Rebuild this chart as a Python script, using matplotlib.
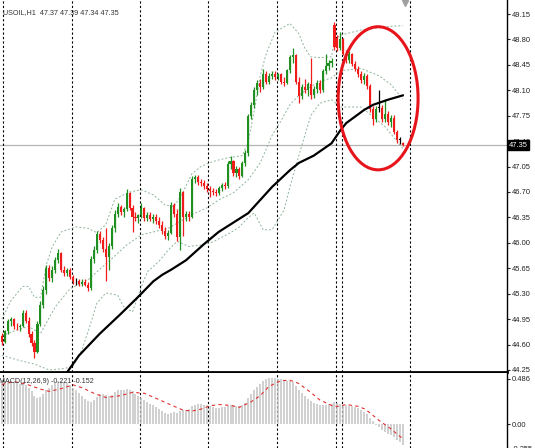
import numpy as np
import matplotlib
matplotlib.use("Agg")
import matplotlib.pyplot as plt
from matplotlib.patches import Ellipse

plt.rcParams['font.family'] = ['Liberation Sans', 'DejaVu Sans']

# hourly candles, bar -1 is cut at the left edge
bars = np.arange(-1, 135)
opens = [44.72, 44.64, 44.78, 44.92, 44.95, 44.85, 44.84, 44.86, 45.04, 44.93, 44.74,
         44.62, 44.50, 44.88, 45.15, 45.35, 45.66, 45.52, 45.62, 45.76, 45.86,
         45.63, 45.58, 45.62, 45.53, 45.47, 45.47, 45.44, 45.46, 45.42, 45.38,
         45.78, 45.90, 46.12, 46.04, 45.92, 45.80, 45.95, 46.20, 46.40, 46.50,
         46.42, 46.46, 46.68, 46.48, 46.36, 46.34, 46.38, 46.48, 46.34, 46.38,
         46.33, 46.36, 46.30, 46.24, 46.16, 46.10, 46.14, 46.52, 46.40, 46.08,
         46.70, 46.36, 46.40, 46.36, 46.88, 46.90, 46.84, 46.82, 46.78, 46.74,
         46.72, 46.70, 46.68, 46.76, 46.80, 46.78, 47.08, 47.12, 46.96, 47.02,
         46.92, 47.10, 47.24, 47.74, 47.90, 48.10, 48.20, 48.14, 48.32, 48.22,
         48.30, 48.32, 48.28, 48.32, 48.22, 48.20, 48.38, 48.56, 48.58, 48.22,
         48.02, 48.14, 48.10, 48.18, 48.04, 48.12, 48.20, 48.10, 48.36, 48.44,
         48.48, 49.00, 48.82, 48.68, 48.80, 48.60, 48.52, 48.60, 48.46, 48.40,
         48.32, 48.24, 48.30, 48.16, 47.84, 47.70, 47.86, 47.86, 47.70, 47.78,
         47.66, 47.72, 47.52, 47.42, 47.37]
highs = [44.76, 44.80, 44.95, 44.98, 44.97, 44.90, 44.88, 45.08, 45.07, 44.98, 44.78,
         44.66, 44.92, 45.20, 45.40, 45.70, 45.70, 45.68, 45.80, 45.92, 45.88,
         45.68, 45.66, 45.66, 45.56, 45.52, 45.50, 45.50, 45.50, 45.46, 45.82,
         45.96, 46.16, 46.16, 46.08, 46.20, 46.00, 46.25, 46.45, 46.55, 46.52,
         46.50, 46.74, 46.70, 46.52, 46.42, 46.40, 46.55, 46.50, 46.42, 46.42,
         46.40, 46.40, 46.36, 46.30, 46.22, 46.18, 46.56, 46.55, 46.46, 46.76,
         46.72, 46.44, 46.44, 46.92, 46.94, 46.93, 46.88, 46.86, 46.82, 46.78,
         46.76, 46.74, 46.78, 46.82, 46.84, 47.12, 47.20, 47.14, 47.06, 47.05,
         47.12, 47.28, 47.78, 47.94, 48.14, 48.24, 48.26, 48.40, 48.36, 48.34,
         48.36, 48.36, 48.34, 48.34, 48.28, 48.40, 48.58, 48.68, 48.60, 48.28,
         48.18, 48.26, 48.22, 48.55, 48.16, 48.24, 48.24, 48.40, 48.60, 48.52,
         48.54, 49.04, 48.86, 48.90, 48.82, 48.66, 48.64, 48.62, 48.50, 48.44,
         48.36, 48.34, 48.32, 48.18, 47.88, 47.88, 48.10, 47.90, 47.98, 47.82,
         47.76, 47.76, 47.56, 47.46, 47.39]
lows = [44.60, 44.62, 44.74, 44.86, 44.82, 44.80, 44.78, 44.84, 44.90, 44.70, 44.58,
        44.42, 44.48, 44.85, 45.10, 45.30, 45.48, 45.46, 45.58, 45.72, 45.60,
        45.55, 45.54, 45.50, 45.44, 45.42, 45.40, 45.40, 45.40, 45.34, 45.35,
        45.72, 45.86, 46.00, 45.88, 45.48, 45.62, 45.92, 46.15, 46.35, 46.38,
        46.36, 46.44, 46.45, 46.15, 46.30, 46.28, 46.34, 46.30, 46.30, 46.30,
        46.28, 46.26, 46.20, 46.12, 46.05, 46.04, 46.12, 46.36, 46.02, 45.90,
        46.10, 46.30, 46.30, 46.34, 46.82, 46.80, 46.78, 46.74, 46.70, 46.63,
        46.66, 46.64, 46.66, 46.72, 46.74, 46.76, 47.02, 46.92, 46.90, 46.88,
        46.90, 47.06, 47.20, 47.70, 47.86, 48.04, 48.08, 48.12, 48.18, 48.18,
        48.26, 48.24, 48.24, 48.18, 48.16, 48.18, 48.34, 48.48, 48.18, 47.92,
        47.98, 48.06, 48.02, 47.98, 48.00, 48.06, 48.06, 48.08, 48.32, 48.38,
        48.42, 48.66, 48.64, 48.66, 48.58, 48.48, 48.48, 48.44, 48.36, 48.28,
        48.20, 48.18, 48.12, 47.80, 47.62, 47.66, 47.80, 47.66, 47.66, 47.62,
        47.60, 47.50, 47.38, 47.36, 47.34]
closes = [44.64, 44.78, 44.92, 44.95, 44.85, 44.84, 44.86, 45.04, 44.93, 44.74, 44.62,
          44.50, 44.88, 45.15, 45.35, 45.66, 45.52, 45.62, 45.76, 45.86, 45.63,
          45.58, 45.62, 45.53, 45.47, 45.47, 45.44, 45.46, 45.42, 45.38, 45.78,
          45.90, 46.12, 46.04, 45.92, 45.80, 45.95, 46.20, 46.40, 46.50, 46.42,
          46.46, 46.68, 46.48, 46.36, 46.34, 46.38, 46.48, 46.34, 46.38, 46.33,
          46.36, 46.30, 46.24, 46.16, 46.10, 46.14, 46.52, 46.40, 46.08, 46.70,
          46.36, 46.40, 46.36, 46.88, 46.90, 46.84, 46.82, 46.78, 46.74, 46.72,
          46.70, 46.68, 46.76, 46.80, 46.78, 47.08, 47.12, 46.96, 47.02, 46.92,
          47.10, 47.24, 47.74, 47.90, 48.10, 48.20, 48.14, 48.32, 48.22, 48.30,
          48.32, 48.28, 48.32, 48.22, 48.20, 48.38, 48.56, 48.58, 48.22, 48.02,
          48.14, 48.10, 48.18, 48.04, 48.12, 48.20, 48.10, 48.36, 48.44, 48.48,
          48.50, 48.70, 48.68, 48.80, 48.60, 48.52, 48.60, 48.46, 48.40, 48.32,
          48.24, 48.30, 48.16, 47.84, 47.70, 47.84, 47.86, 47.70, 47.78, 47.66,
          47.72, 47.52, 47.42, 47.42, 47.35]

# slow moving average (thick black line)
ma_bars = [21, 25, 32, 39, 45, 50, 53, 56, 61, 67, 72, 77, 82, 86, 90, 96, 99, 104,
           110, 113, 115, 121, 124, 129, 134]
ma_vals = [44.22, 44.45, 44.75, 45.02, 45.26, 45.47, 45.56, 45.63, 45.76, 45.98, 46.15,
           46.28, 46.41, 46.59, 46.77, 47.00, 47.10, 47.20, 47.37, 47.55, 47.65,
           47.83, 47.90, 47.97, 48.03]

# bollinger bands
bb_up_bars = [-1, 2, 6, 8, 10, 12, 14, 16, 19, 24, 28, 31, 34, 37, 42, 46, 50, 54,
              57, 60, 63, 66, 70, 75, 80, 82, 84, 86, 88, 91, 96, 99, 101, 103, 106,
              110, 111, 113, 120, 126, 130, 134]
bb_up = [44.95, 45.20, 45.40, 45.40, 45.25, 45.25, 45.70, 45.95, 46.15, 46.22, 46.20,
         46.14, 46.25, 46.60, 46.70, 46.73, 46.66, 46.52, 46.50, 46.70, 46.95, 47.05,
         47.12, 47.17, 47.20, 47.40, 47.82, 48.30, 48.60, 48.90, 49.02, 48.88, 48.68,
         48.56, 48.55, 48.56, 48.80, 48.86, 48.93, 48.96, 48.98, 48.99]
bb_mid_bars = [-1, 4, 8, 12, 17, 22, 28, 31, 36, 41, 46, 50, 55, 58, 61, 63, 68, 72,
               77, 82, 86, 90, 93, 96, 99, 103, 106, 110, 113, 120, 126, 130, 134]
bb_mid = [44.72, 44.80, 44.85, 44.75, 45.12, 45.37, 45.49, 45.60, 45.78, 45.97, 46.11,
          46.15, 46.20, 46.27, 46.34, 46.39, 46.48, 46.59, 46.69, 46.87, 47.10, 47.48,
          47.68, 47.90, 48.03, 48.15, 48.22, 48.27, 48.37, 48.40, 48.30, 48.18, 47.98]
bb_low_bars = [-1, 5, 10, 15, 20, 23, 26, 29, 31, 34, 38, 40, 43, 46, 48, 52, 55, 58,
               62, 66, 70, 76, 79, 82, 84, 87, 90, 94, 96, 99, 103, 106, 110, 113, 120,
               128, 134]
bb_low = [44.45, 44.38, 44.33, 44.25, 44.27, 44.30, 44.53, 44.90, 45.17, 45.31, 45.28,
          45.12, 45.05, 45.40, 45.60, 45.75, 45.90, 46.02, 45.95, 45.97, 46.01, 46.14,
          46.22, 46.35, 46.41, 46.18, 46.18, 46.45, 46.77, 47.20, 47.75, 47.92, 47.97,
          47.87, 47.87, 47.60, 47.30]

# MACD(12,26,9): main as histogram, signal as dotted line
macd_main = [0.46, 0.46, 0.46, 0.46, 0.45, 0.44, 0.43, 0.43, 0.42, 0.39, 0.35,
             0.30, 0.28, 0.29, 0.32, 0.36, 0.39, 0.42, 0.44, 0.46, 0.46,
             0.45, 0.44, 0.42, 0.39, 0.36, 0.33, 0.30, 0.27, 0.25, 0.24,
             0.26, 0.29, 0.32, 0.32, 0.31, 0.30, 0.31, 0.34, 0.36, 0.37,
             0.37, 0.38, 0.37, 0.35, 0.32, 0.30, 0.28, 0.26, 0.24, 0.22,
             0.20, 0.18, 0.16, 0.14, 0.12, 0.11, 0.12, 0.13, 0.12, 0.14,
             0.15, 0.15, 0.16, 0.19, 0.21, 0.22, 0.22, 0.21, 0.20, 0.19,
             0.18, 0.17, 0.17, 0.18, 0.18, 0.19, 0.20, 0.20, 0.19, 0.19,
             0.20, 0.23, 0.28, 0.32, 0.36, 0.40, 0.43, 0.46, 0.48, 0.49,
             0.49, 0.49, 0.48, 0.48, 0.47, 0.46, 0.46, 0.45, 0.41, 0.37,
             0.33, 0.30, 0.27, 0.25, 0.23, 0.22, 0.21, 0.21, 0.21, 0.22,
             0.22, 0.24, 0.23, 0.22, 0.21, 0.20, 0.19, 0.19, 0.18, 0.17,
             0.15, 0.13, 0.11, 0.07, 0.03, -0.01, -0.03, -0.06, -0.08, -0.10,
             -0.12, -0.14, -0.17, -0.19, -0.221]
sig_bars = [-1, 3, 7, 12, 15, 19, 23, 26, 30, 34, 39, 43, 47, 51, 56, 60, 63, 66, 69,
            72, 76, 79, 83, 86, 89, 93, 96, 99, 103, 106, 110, 112, 115, 119, 121, 123,
            126, 130, 133, 134]
sig_vals = [0.425, 0.455, 0.43, 0.375, 0.35, 0.38, 0.42, 0.39, 0.33, 0.285, 0.305,
            0.34, 0.33, 0.275, 0.205, 0.15, 0.14, 0.16, 0.195, 0.21, 0.2, 0.18, 0.24,
            0.305, 0.405, 0.465, 0.47, 0.435, 0.34, 0.26, 0.2, 0.19, 0.21, 0.19, 0.165,
            0.12, 0.04, -0.05, -0.13, -0.152]

day_lines = [-0.5, 22.5, 45.5, 68.5, 91.5, 111.5, 113.5, 136.5]
price_ticks = [49.15, 48.80, 48.45, 48.10, 47.75, 47.40, 47.05, 46.70, 46.35, 46.00,
               45.65, 45.30, 44.95, 44.60, 44.25]
macd_ticks = [0.486, 0.0, -0.255]
last_price = 47.35

fig = plt.figure(figsize=(5.35, 4.48), dpi=100)
ax = fig.add_axes([0, 76 / 448, 507 / 535, 372 / 448])
ax2 = fig.add_axes([0, 0, 507 / 535, 75 / 448])

xmin, xmax = -1.616, 169.09
green = '#1f8f1f'
red = '#f01c1c'

# candles
o = np.array(opens)
c = np.array(closes)
cols = np.where(c > o, green, np.where(c < o, red, 'black'))
ax.vlines(bars, lows, highs, colors=cols, lw=0.9, zorder=3)
body = np.where(np.abs(c - o) < 0.01, 0.01, c - o)
ax.bar(bars, body, bottom=o, width=0.7, color=cols, lw=0, zorder=4)

ax.plot(bb_up_bars, bb_up, color='#8fb59a', lw=0.7, ls=(0, (2, 2)), zorder=2)
ax.plot(bb_mid_bars, bb_mid, color='#8fb59a', lw=0.7, ls=(0, (2, 2)), zorder=2)
ax.plot(bb_low_bars, bb_low, color='#8fb59a', lw=0.7, ls=(0, (2, 2)), zorder=2)
ax.plot(ma_bars, ma_vals, color='black', lw=1.6, zorder=5)

ax.axhline(last_price, color='#b4b4b4', lw=0.9, zorder=1)
for d in day_lines:
    ax.axvline(d, color='black', lw=0.8, ls=(0, (2, 2)), zorder=1)
    ax2.axvline(d, color='black', lw=0.8, ls=(0, (2, 2)), zorder=1)

ax.add_patch(Ellipse((125.7, 47.99), 26.9, 1.97, fill=False, ec='#e8141c', lw=2.2, zorder=6))
ax.plot([134.7], [49.30], marker='v', color='#a0a0a0', ms=4, clip_on=False)

ax.set_xlim(xmin, xmax)
ax.set_ylim(44.222, 49.343)
ax.set_xticks([])
ax.yaxis.tick_right()
ax.set_yticks(price_ticks)
ax.set_yticklabels(['%.2f' % t for t in price_ticks])
ax.tick_params(axis='y', labelsize=5.4, length=2.5, width=0.8, pad=1.2, colors='#222222')
for s in ['top', 'left']:
    ax.spines[s].set_visible(False)
ax.spines['right'].set_linewidth(1.0)
ax.spines['bottom'].set_linewidth(2.0)

ax.text(-0.6, 49.17, 'USOIL,H1  47.37 47.39 47.34 47.35', fontsize=5.2, color='#333333',
        va='center', ha='left')
fig.text(509 / 535, 1 - 145.5 / 448, '47.35', fontsize=5.4, color='white', va='center', ha='left',
         bbox=dict(boxstyle='square,pad=0.2', fc='black', ec='black'), zorder=10)

# MACD panel
ax2.vlines(bars, 0, macd_main, colors='#c4c4c4', lw=1.1, zorder=2)
ax2.plot(sig_bars, sig_vals, color='#e03030', lw=0.8, ls=(0, (3, 3)), zorder=3)
ax2.set_xlim(xmin, xmax)
ax2.set_ylim(-0.2126, 0.547)
ax2.set_xticks([])
ax2.yaxis.tick_right()
ax2.set_yticks(macd_ticks)
ax2.set_yticklabels(['0.486', '0.00', '-0.255'])
ax2.tick_params(axis='y', labelsize=5.4, length=2.5, width=0.8, pad=1.2, colors='#222222')
for s in ['top', 'left', 'bottom']:
    ax2.spines[s].set_visible(False)
ax2.spines['right'].set_linewidth(1.0)
ax2.text(-2.1, 0.46, 'MACD(12,26,9) -0.221 -0.152', fontsize=5.1, color='#333333',
         va='center', ha='left')

fig.savefig('out.png', dpi=100)
